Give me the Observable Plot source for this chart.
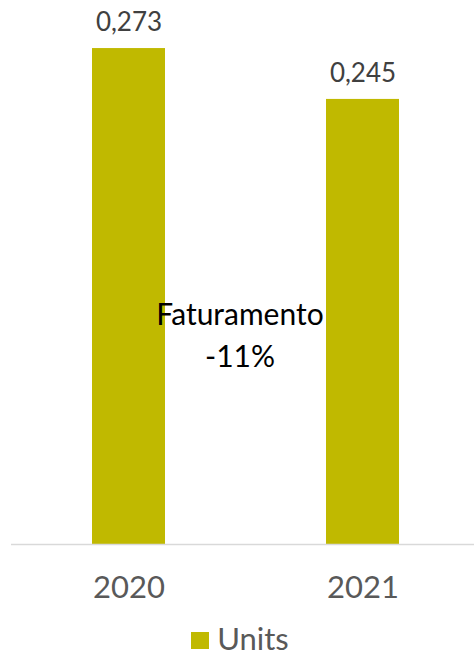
<!DOCTYPE html>
<html>
<head>
<meta charset="utf-8">
<script src="https://cdn.jsdelivr.net/npm/d3@7"></script>
<script src="https://cdn.jsdelivr.net/npm/@observablehq/plot@0.6"></script>
<style>
  html, body { margin: 0; padding: 0; background: #fff; }
  #chart { width: 474px; font-family: Lato, sans-serif; }
  .legend { display: flex; justify-content: center; align-items: center; height: 40px; margin-top: 8px; line-height: 36px; font-family: Lato, sans-serif; font-size: 31px; color: #595959; }
  .legend .sw { width: 18px; height: 17px; background: #C0B900; margin-right: 8px; margin-left: 6px; margin-top: 4px; }
</style>
</head>
<body>
<div id="chart"></div>
<script>
const years = ["2020", "2021"];
const values = [0.273, 0.245];
const valueLabels = ["0,273", "0,245"];
const seriesName = "Units";
const annotation = ["Faturamento", "-11%"];

const data = years.map((y, i) => ({year: y, value: values[i], label: valueLabels[i]}));
const barColor = "#C0B900";

const plot = Plot.plot({
  width: 474,
  height: 610,
  marginTop: 0,
  marginLeft: 11,
  marginRight: 0,
  marginBottom: 66,
  style: {fontFamily: "Lato, sans-serif", background: "#fff"},
  x: {domain: years, range: [91.7, 399], paddingInner: 0.687, paddingOuter: 0},
  y: {domain: [0, 0.3], range: [544, -1], axis: null},
  marks: [
    Plot.barY(data, {x: "year", y: "value", fill: barColor}),
    Plot.ruleY([0], {stroke: "#D9D9D9", strokeWidth: 1.5}),
    Plot.text(data, {x: "year", y: "value", text: "label", dy: -26, fontSize: 26, fill: "#404040", lineAnchor: "middle"}),
    Plot.axisX({tickSize: 0, tickPadding: 31, fontSize: 31, color: "#595959", fill: "#595959", label: null}),
    Plot.text([annotation.join("\n")], {frameAnchor: "middle", dx: -3, dy: 60.5, fontSize: 30, lineHeight: 1.4, fill: "#000", lineAnchor: "middle"})
  ]
});
document.getElementById("chart").appendChild(plot);
const leg = document.createElement("div");
leg.className = "legend";
leg.innerHTML = '<span class="sw"></span><span>' + seriesName + '</span>';
document.getElementById("chart").appendChild(leg);
</script>
</body>
</html>
